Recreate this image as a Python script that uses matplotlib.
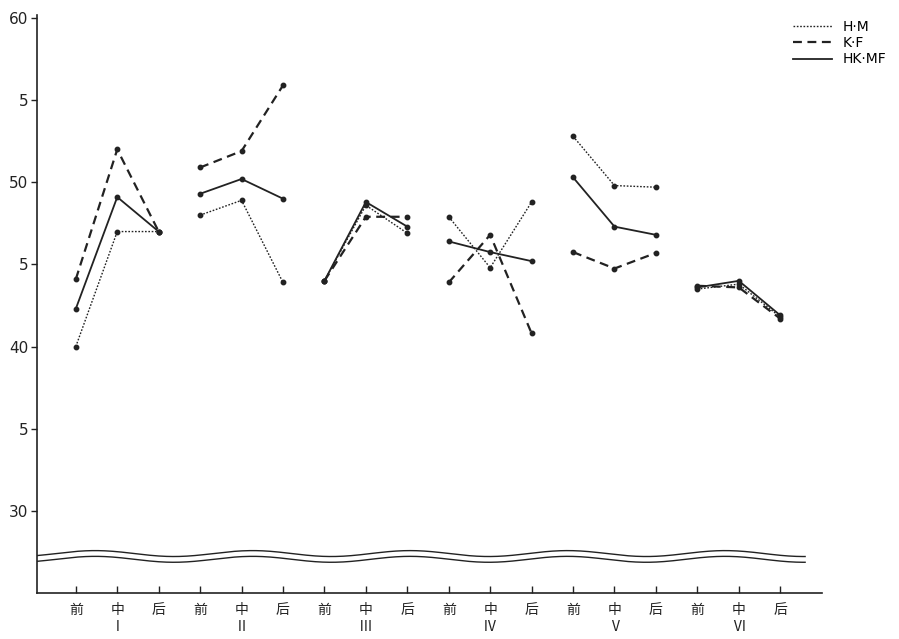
import numpy as np
import matplotlib
matplotlib.use("Agg")
import matplotlib.pyplot as plt
from matplotlib.lines import Line2D

plt.rcParams['font.family'] = ['Noto Sans CJK SC', 'DejaVu Sans']

# categories: three positions in each of six groups
positions = ['前', '中', '后']
groups = ['Ⅰ', 'Ⅱ', 'Ⅲ', 'Ⅳ', 'Ⅴ', 'Ⅵ']

# values, 3 per group
hm = [40.0, 47.0, 47.0,
      48.0, 48.9, 43.9,
      44.0, 48.6, 46.9,
      47.9, 44.8, 48.8,
      52.8, 49.8, 49.7,
      43.5, 43.8, 41.8]
kf = [44.1, 52.0, 47.0,
      50.9, 51.9, 55.9,
      44.0, 47.9, 47.9,
      43.9, 46.8, 40.8,
      45.75, 44.75, 45.7,
      43.7, 43.6, 41.7]
hkmf = [42.3, 49.1, 47.0,
        49.3, 50.2, 49.0,
        44.0, 48.8, 47.3,
        46.4, 45.75, 45.2,
        50.3, 47.3, 46.8,
        43.6, 44.0, 41.9]

ytick_vals = [30, 35, 40, 45, 50, 55, 60]
ytick_labels = ['30', '5', '40', '5', '50', '5', '60']

ink = '#222222'

fig = plt.figure(figsize=(8.99, 6.39), dpi=100)
ax = fig.add_axes([0.041, 0.072, 0.873, 0.905])

styles = {
    'H·M': dict(data=hm, ls=(0, (1.2, 1.2)), lw=1.0),
    'K·F': dict(data=kf, ls=(0, (4, 2.5)), lw=1.6),
    'HK·MF': dict(data=hkmf, ls='-', lw=1.3),
}

handles = []
for name, st in styles.items():
    vals = st['data']
    for g in range(len(groups)):
        xs = np.arange(3) + 3 * g
        ys = vals[3 * g:3 * g + 3]
        ax.plot(xs, ys, color=ink, ls=st['ls'], lw=st['lw'],
                marker='o', ms=3.2, mfc=ink, mec=ink)
    handles.append(Line2D([], [], color=ink, ls=st['ls'], lw=st['lw'], label=name))

# axis break: two wavy lines near the bottom
xw = np.linspace(-0.94, 17.6, 600)
wave = 0.18 * np.sin(xw * np.pi / 1.9 + 0.8)
ax.plot(xw, 27.4 + wave, color=ink, lw=1.0)
ax.plot(xw, 27.05 + wave, color=ink, lw=1.0)

ax.set_xlim(-0.94, 18.0)
ax.set_ylim(25.0, 60.2)

ax.set_xticks(np.arange(18))
ax.set_xticklabels(positions * len(groups), fontsize=10)
ax.tick_params(axis='x', direction='in', length=5, width=1, color=ink,
               labelcolor=ink, pad=7)
for g, lab in enumerate(groups):
    ax.text(1 + 3 * g, -0.047, lab, transform=ax.get_xaxis_transform(),
            ha='center', va='top', fontsize=10, color=ink)

ax.set_yticks(ytick_vals)
ax.set_yticklabels(ytick_labels, fontsize=11, family=['DejaVu Sans'])
ax.tick_params(axis='y', direction='out', length=4, width=1, color=ink,
               labelcolor=ink, pad=2)

for side in ['top', 'right']:
    ax.spines[side].set_visible(False)
for side in ['left', 'bottom']:
    ax.spines[side].set_color(ink)
    ax.spines[side].set_linewidth(1.2)

ax.legend(handles=handles, loc='upper right', bbox_to_anchor=(1.09, 1.0),
          frameon=False, handlelength=2.8, labelspacing=0.15,
          handletextpad=0.8, borderaxespad=0.0,
          prop={'family': ['DejaVu Sans'], 'size': 10})

fig.savefig('out.png', dpi=100, facecolor='white')
